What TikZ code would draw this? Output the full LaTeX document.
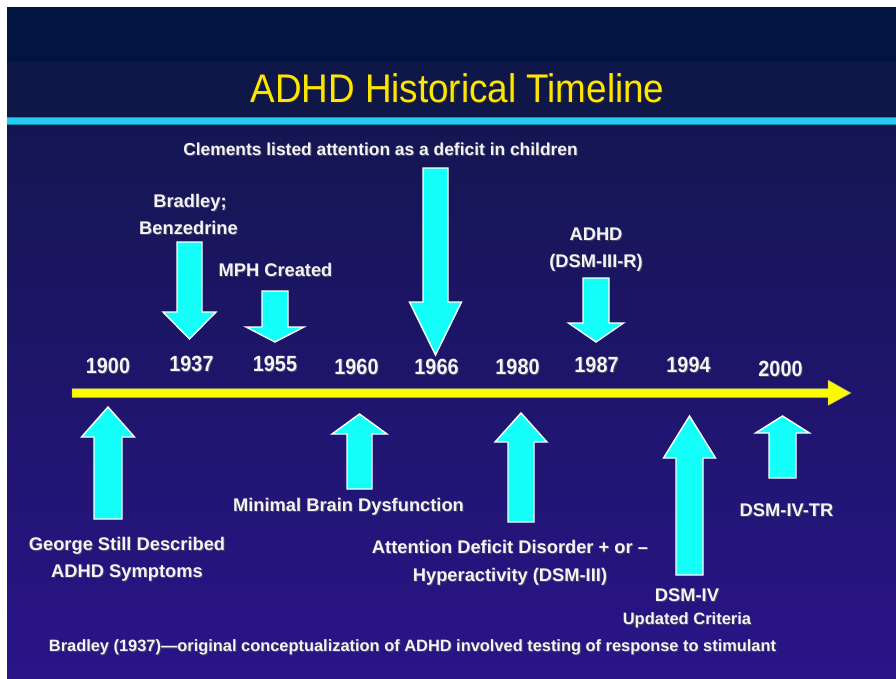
\documentclass[tikz,border=0pt]{standalone}
\usepackage{fontspec}
\setmainfont{Liberation Sans}
\usetikzlibrary{calc}
\definecolor{topnavy}{RGB}{2,20,66}
\definecolor{titleband}{RGB}{14,23,72}
\definecolor{rulecyan}{RGB}{34,204,242}
\definecolor{gradtop}{RGB}{20,22,82}
\definecolor{gradbot}{RGB}{42,20,136}
\definecolor{arrcyan}{RGB}{20,255,250}
\definecolor{lineyellow}{RGB}{252,250,0}
\definecolor{titleyellow}{RGB}{255,230,0}
\definecolor{txtwhite}{RGB}{244,244,248}
\definecolor{txtshadow}{RGB}{70,70,100}
\tikzset{
  cyanarrow/.style={fill=arrcyan, draw=white, line width=1.4pt, line join=miter},
  lbltext/.style={anchor=base, inner sep=0pt, text=txtwhite, font=\bfseries},
}
% text with its own drop shadow, in one box
\newcommand{\shadowed}[4]{% offset, shadow colour, text colour, text
  \makebox[0pt][l]{\hspace{#1}\raisebox{-#1}{\color{#2}#4}}{\color{#3}#4}}
% \mylbl{name}{x}{y}{size}{text}
\newcommand{\mylbl}[5]{%
  \node[lbltext] (#1) at (#2,#3) {\fontsize{#4}{#4}\selectfont\shadowed{1pt}{txtshadow}{txtwhite}{#5}};}
% arrow: name, x, shaft half, shaft end, head y, head half, tip
\newcommand{\myarr}[7]{%
  \draw[cyanarrow] (#2-#3,#4) -- (#2+#3,#4) -- (#2+#3,#5) -- (#2+#6,#5) -- (#2,#7) -- (#2-#6,#5) -- (#2-#3,#5) -- cycle;
  \coordinate (#1) at (#2,#7);}
\begin{document}
\begin{tikzpicture}[x=1pt,y=-1pt]
\useasboundingbox (0,0) rectangle (896,678);
% background
\fill[white] (0,0) rectangle (896,678);
\fill[topnavy] (7,7) rectangle (896,62);
\fill[titleband] (7,62) rectangle (896,117);
\shade[top color=gradtop, bottom color=gradbot] (7,124) rectangle (896,678);
\fill[rulecyan!70!black] (7,117) rectangle (896,124.5);
\fill[rulecyan] (7,118) rectangle (896,123.5);
% title
\node[anchor=base, inner sep=0pt] (title) at (457.5,102.5) {\fontsize{40}{40}\selectfont\scalebox{0.92}[1]{\shadowed{1.2pt}{black!85}{titleyellow}{ADHD Historical Timeline}}};
% timeline
\coordinate (tlstart) at (72,393);
\coordinate (tlend) at (851,393);
\fill[lineyellow, draw=black!40, line width=0.4pt] (tlstart) ++(0,-4.5) -- (828,388.5) -- (828,380) -- (tlend) -- (828,405.5) -- (828,397.5) -- (72,397.5) -- cycle;
% down arrows
\myarr{a1937}{189.5}{12.5}{242}{312}{26.5}{339}
\myarr{a1955}{275}{13}{291}{327}{29}{342}
\myarr{a1966}{435.5}{12.5}{168}{302}{26}{355}
\myarr{a1987}{596}{13}{278}{323}{27.5}{342}
% up arrows
\myarr{a1900}{108}{14}{519}{437}{26.5}{407}
\myarr{a1960}{359.5}{12.5}{489}{434}{27.5}{414}
\myarr{a1980}{521}{13}{522}{442}{26}{413}
\myarr{a1994}{689.5}{13.5}{575}{458}{26}{416}
\myarr{a2000}{782.5}{13.5}{478}{433}{27}{416}
% years
\mylbl{y1900}{108}{373}{22}{\scalebox{0.9}[1]{1900}}
\mylbl{y1937}{191.5}{371}{22}{\scalebox{0.9}[1]{1937}}
\mylbl{y1955}{275}{371}{22}{\scalebox{0.9}[1]{1955}}
\mylbl{y1960}{356.5}{374}{22}{\scalebox{0.9}[1]{1960}}
\mylbl{y1966}{436.5}{374}{22}{\scalebox{0.9}[1]{1966}}
\mylbl{y1980}{517.5}{374}{22}{\scalebox{0.9}[1]{1980}}
\mylbl{y1987}{596.5}{372}{22}{\scalebox{0.9}[1]{1987}}
\mylbl{y1994}{688.5}{372}{22}{\scalebox{0.9}[1]{1994}}
\mylbl{y2000}{780.5}{376}{22}{\scalebox{0.9}[1]{2000}}
% top labels
\mylbl{clements}{380.5}{155}{17.4}{Clements listed attention as a deficit in children}
\mylbl{bradley}{190}{207}{18.3}{Bradley;}
\mylbl{benz}{188.5}{234}{18.3}{Benzedrine}
\mylbl{mph}{275.5}{276}{18.3}{MPH Created}
\mylbl{adhd}{596}{240}{18.3}{ADHD}
\mylbl{dsm3r}{596}{267}{18.3}{(DSM-III-R)}
% bottom labels
\mylbl{mbd}{348.5}{511}{18.3}{Minimal Brain Dysfunction}
\mylbl{george}{127}{550}{18.3}{George Still Described}
\mylbl{symptoms}{127}{577}{18.3}{ADHD Symptoms}
\mylbl{add}{510}{553}{18.3}{Attention Deficit Disorder + or –}
\mylbl{hyper}{510}{581}{18.3}{Hyperactivity (DSM-III)}
\mylbl{dsm4}{687}{601}{18.3}{DSM-IV}
\mylbl{updated}{687}{624}{16.5}{Updated Criteria}
\mylbl{dsm4tr}{786.5}{516}{18.3}{DSM-IV-TR}
\mylbl{foot}{412.5}{651}{16.4}{Bradley (1937)—original conceptualization of ADHD involved testing of response to stimulant}
\end{tikzpicture}
\end{document}
